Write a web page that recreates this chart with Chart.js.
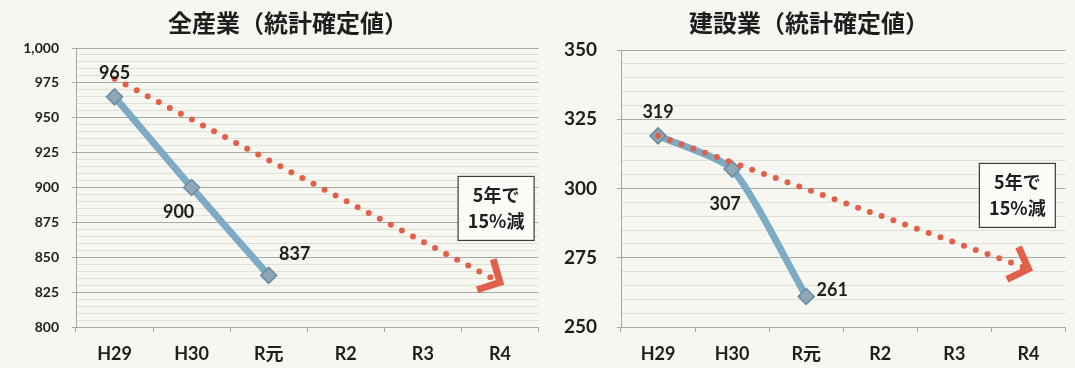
<!DOCTYPE html>
<html lang="ja">
<head>
<meta charset="utf-8">
<title>全産業・建設業（統計確定値）</title>
<script src="https://cdn.jsdelivr.net/npm/chart.js@4/dist/chart.umd.min.js"></script>
<style>
  html, body { margin: 0; padding: 0; background: #f7f7f1; }
  #wrap { position: relative; width: 1075px; height: 368px; overflow: hidden; }
  canvas { position: absolute; top: 0; }
  #all-chart { left: 0; }
  #con-chart { left: 548px; }
</style>
</head>
<body>
<div id="wrap">
  <canvas id="all-chart" width="548" height="368"></canvas>
  <canvas id="con-chart" width="527" height="368"></canvas>
</div>
<script>
"use strict";

// ── Data ─────────────────────────────────────────────────────────────────────

const YEARS = ["H29", "H30", "R元", "R2", "R3", "R4"];

// 全産業
const ALL_ACTUAL = [965, 900, 837, null, null, null];
const ALL_TARGET = [978, null, null, null, null, 832];   // 5年で15%減
const ALL_Y_RANGE = [800, 1000];

// 建設業
const CON_ACTUAL = [319, 307, 261, null, null, null];
const CON_TARGET = [319, null, null, null, null, 271];
const CON_Y_RANGE = [250, 350];

const NOTE_LINES = ["5年で", "15%減"];

// ── Styles ───────────────────────────────────────────────────────────────────

const NUM_FONT = "Lato, 'Noto Sans CJK JP', sans-serif";
const JP_FONT = "'Noto Sans CJK JP', sans-serif";
const MAJOR_GRID = "#a9a9a4";
const MINOR_GRID = "#e0e0d9";
const ACTUAL_COLOR = "#7dabc6";
const TARGET_COLOR = "#e2604a";
const TEXT_COLOR = "#1e1e1e";

// ── Plugins ──────────────────────────────────────────────────────────────────

// heading above the plot (drawn by hand so it can sit off-centre)
const chartTitle = {
  id: "chartTitle",
  afterDraw(chart, args, opts) {
    const ctx = chart.ctx;
    ctx.save();
    ctx.font = `bold 24px ${JP_FONT}`;
    ctx.fillStyle = TEXT_COLOR;
    ctx.textAlign = "center";
    ctx.textBaseline = "middle";
    ctx.fillText(opts.text, opts.x, opts.y);
    ctx.restore();
  },
};

// value labels next to each actual point
const valueLabels = {
  id: "valueLabels",
  afterDatasetsDraw(chart, args, opts) {
    const ds = chart.data.datasets[0];
    const meta = chart.getDatasetMeta(0);
    const ctx = chart.ctx;
    ctx.save();
    ctx.font = `bold ${opts.size}px ${NUM_FONT}`;
    ctx.fillStyle = TEXT_COLOR;
    ctx.textAlign = "center";
    ctx.textBaseline = "middle";
    meta.data.forEach((pt, i) => {
      const v = ds.data[i];
      if (v == null) return;
      const [dx, dy] = opts.offsets[i];
      ctx.fillText(String(v), pt.x + dx, pt.y + dy);
    });
    ctx.restore();
  },
};

// open arrowhead at the end of the target line
const targetArrow = {
  id: "targetArrow",
  afterDatasetsDraw(chart) {
    const ds = chart.data.datasets[1];
    const meta = chart.getDatasetMeta(1);
    const pts = meta.data.filter((p, i) => ds.data[i] != null);
    if (pts.length < 2) return;
    const a = pts[pts.length - 2];
    const b = pts[pts.length - 1];
    const ang = Math.atan2(b.y - a.y, b.x - a.x);
    const len = 24;
    const spread = 0.8;
    const ctx = chart.ctx;
    ctx.save();
    ctx.strokeStyle = TARGET_COLOR;
    ctx.lineWidth = 7;
    ctx.lineJoin = "miter";
    ctx.lineCap = "butt";
    ctx.beginPath();
    ctx.moveTo(b.x - len * Math.cos(ang - spread), b.y - len * Math.sin(ang - spread));
    ctx.lineTo(b.x, b.y);
    ctx.lineTo(b.x - len * Math.cos(ang + spread), b.y - len * Math.sin(ang + spread));
    ctx.stroke();
    ctx.restore();
  },
};

// boxed note "5年で 15%減", anchored in data space
const noteBox = {
  id: "noteBox",
  afterDraw(chart, args, opts) {
    const cx = chart.scales.x.getPixelForValue(opts.at[0]);
    const cy = chart.scales.y.getPixelForValue(opts.at[1]);
    const w = 76, h = 64, lh = 26;
    const ctx = chart.ctx;
    ctx.save();
    ctx.fillStyle = "#fbfbf8";
    ctx.strokeStyle = "#3c3c3c";
    ctx.lineWidth = 1.2;
    ctx.fillRect(cx - w / 2, cy - h / 2, w, h);
    ctx.strokeRect(cx - w / 2, cy - h / 2, w, h);
    ctx.font = `bold 18px ${JP_FONT}`;
    ctx.fillStyle = TEXT_COLOR;
    ctx.textAlign = "center";
    ctx.textBaseline = "middle";
    NOTE_LINES.forEach((t, i) => {
      ctx.fillText(t, cx, cy + (i - (NOTE_LINES.length - 1) / 2) * lh);
    });
    ctx.restore();
  },
};

// ── Chart builder ────────────────────────────────────────────────────────────

function isMajor(v) {
  return v % 25 === 0;
}

function buildChart(canvasId, cfg) {
  const ctx = document.getElementById(canvasId).getContext("2d");
  return new Chart(ctx, {
    type: "line",
    data: {
      labels: YEARS,
      datasets: [
        {
          label: "実績",
          data: cfg.actual,
          borderColor: ACTUAL_COLOR,
          borderWidth: 7,
          tension: cfg.tension,
          pointStyle: "rectRot",
          pointRadius: 8,
          pointBackgroundColor: "#8ea7b8",
          pointBorderColor: "#6c8b9f",
          pointBorderWidth: 1.5,
          order: 1,
        },
        {
          label: "目標",
          data: cfg.target,
          spanGaps: true,
          borderColor: TARGET_COLOR,
          borderWidth: 6,
          borderDash: [0, 12.5],
          borderCapStyle: "round",
          pointRadius: 0,
          order: 0,
        },
      ],
    },
    plugins: [valueLabels, targetArrow, noteBox, chartTitle],
    options: {
      responsive: false,
      animation: false,
      events: [],
      layout: { padding: cfg.padding },
      plugins: {
        legend: { display: false },
        tooltip: { enabled: false },
        title: { display: false },
        chartTitle: { text: cfg.title, x: cfg.titleX, y: 23 },
        valueLabels: { size: 18, offsets: cfg.labelOffsets },
        noteBox: { at: cfg.noteAt },
      },
      scales: {
        x: {
          offset: true,
          grid: {
            offset: true,
            drawOnChartArea: false,
            color: MAJOR_GRID,
            tickLength: 5,
          },
          border: { display: false },
          ticks: {
            color: TEXT_COLOR,
            font: { family: NUM_FONT, size: 18, weight: "bold" },
            padding: 11,
            maxRotation: 0,
          },
          afterFit: s => { s.height = 41; },
        },
        y: {
          min: cfg.yRange[0],
          max: cfg.yRange[1],
          grid: {
            color: c => (isMajor(c.tick.value) ? MAJOR_GRID : MINOR_GRID),
            tickColor: c => (isMajor(c.tick.value) ? MAJOR_GRID : "rgba(0,0,0,0)"),
            tickLength: 4,
          },
          border: { color: MAJOR_GRID },
          ticks: {
            stepSize: 5,
            autoSkip: false,
            color: TEXT_COLOR,
            font: { family: NUM_FONT, size: cfg.yFontSize, weight: "bold" },
            padding: cfg.yPad,
            callback: v => (isMajor(v) ? v.toLocaleString("en-US") : ""),
          },
          afterFit: s => { s.width = cfg.yWidth; },
        },
      },
    },
  });
}

// ── Main ─────────────────────────────────────────────────────────────────────

buildChart("all-chart", {
  title: "全産業（統計確定値）",
  titleX: 288,
  actual: ALL_ACTUAL,
  target: ALL_TARGET,
  yRange: ALL_Y_RANGE,
  tension: 0.2,
  padding: { left: 8, right: 5, top: 48, bottom: 0 },
  yWidth: 68,
  yFontSize: 14,
  yPad: 13,
  labelOffsets: [[0, -24], [-13, 25], [26, -21]],
  noteAt: [4.95, 885],
});

buildChart("con-chart", {
  title: "建設業（統計確定値）",
  titleX: 261,
  actual: CON_ACTUAL,
  target: CON_TARGET,
  yRange: CON_Y_RANGE,
  tension: 0.2,
  padding: { left: 6, right: 9, top: 50, bottom: 0 },
  yWidth: 67,
  yFontSize: 19,
  yPad: 20,
  labelOffsets: [[0, -24], [-7, 35], [26, -6]],
  noteAt: [4.85, 297.5],
});
</script>
</body>
</html>
